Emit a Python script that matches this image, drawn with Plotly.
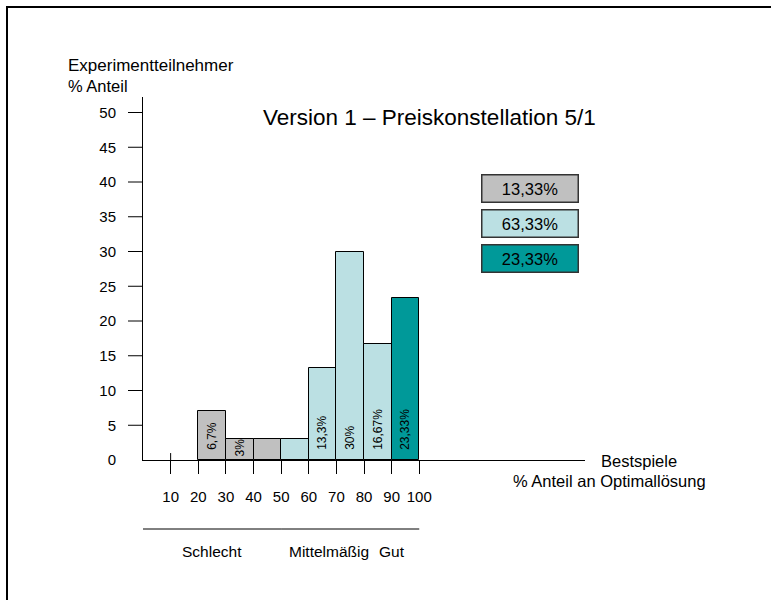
import plotly.graph_objects as go

# ---- data ----
bin_starts = [20, 30, 40, 50, 60, 70, 80, 90]
bin_width = 10
shares = [7, 3, 3, 3, 13.3, 30, 16.67, 23.33]
bar_labels = ["6,7%", "3%", "", "", "13,3%", "30%", "16,67%", "23,33%"]
groups = ["Schlecht", "Schlecht", "Schlecht", "Mittel", "Mittel", "Mittel", "Mittel", "Gut"]
group_colors = {"Schlecht": "#C0C0C0", "Mittel": "#BBE0E3", "Gut": "#009999"}
summary_values = ["13,33%", "63,33%", "23,33%"]
summary_groups = ["Schlecht", "Mittel", "Gut"]
x_ticks = [10, 20, 30, 40, 50, 60, 70, 80, 90, 100]
y_ticks = [0, 5, 10, 15, 20, 25, 30, 35, 40, 45, 50]
quality_labels = ["Schlecht", "Mittelmäßig", "Gut"]
quality_pos = [25, 67.5, 90]
quality_segments = [(0, 50), (50, 100)]

FONT = "Liberation Sans, Arial, sans-serif"

# plot area geometry (pixels)
L, R, T, B = 143, 585, 97, 460
W, H = 771, 600
PW, PH = R - L, B - T

def px_x(px):
    return (px - L) / PW

def px_y(py):
    return (B - py) / PH

# labels in taller bars sit a little above the base
shown_labels = [("\u00a0\u00a0" + t if (t and v > 5) else t) for t, v in zip(bar_labels, shares)]

fig = go.Figure()
fig.add_trace(go.Bar(
    x=[s + bin_width / 2 for s in bin_starts],
    y=shares,
    width=bin_width,
    marker=dict(color=[group_colors[g] for g in groups], line=dict(color="black", width=1)),
    text=shown_labels,
    textposition="inside",
    insidetextanchor="start",
    textangle=-90,
    textfont=dict(family=FONT, size=12, color="black"),
    constraintext="none",
    hoverinfo="skip",
))

shapes = []
# y ticks (left of axis)
for v in y_ticks[1:]:
    shapes.append(dict(type="line", xref="paper", yref="y", x0=-15 / PW, x1=0, y0=v, y1=v,
                       line=dict(color="black", width=1)))
# small upward tick at first x tick
shapes.append(dict(type="line", xref="x", yref="y", x0=x_ticks[0], x1=x_ticks[0], y0=0, y1=1,
                   line=dict(color="black", width=1)))
# quality group lines
for a, b in quality_segments:
    shapes.append(dict(type="line", xref="x", yref="paper", x0=a, x1=b, y0=px_y(529), y1=px_y(529),
                       line=dict(color="black", width=1)))
# frame
shapes.append(dict(type="rect", xref="paper", yref="paper",
                   x0=px_x(7), x1=px_x(820), y0=px_y(640), y1=px_y(7),
                   line=dict(color="black", width=2), fillcolor="rgba(0,0,0,0)"))

annotations = []
annotations.append(dict(text="Version 1 – Preiskonstellation 5/1", xref="paper", yref="paper",
                        x=px_x(429.5), y=px_y(117), xanchor="center", yanchor="middle", showarrow=False,
                        font=dict(family=FONT, size=22.5, color="black")))
annotations.append(dict(text="Experimentteilnehmer", xref="paper", yref="paper",
                        x=px_x(66), y=px_y(66), xanchor="left", yanchor="middle", showarrow=False,
                        font=dict(family=FONT, size=17, color="black")))
annotations.append(dict(text="% Anteil", xref="paper", yref="paper",
                        x=px_x(66), y=px_y(86), xanchor="left", yanchor="middle", showarrow=False,
                        font=dict(family=FONT, size=16.5, color="black")))
annotations.append(dict(text="Bestspiele", xref="paper", yref="paper",
                        x=px_x(599), y=px_y(461), xanchor="left", yanchor="middle", showarrow=False,
                        font=dict(family=FONT, size=16.5, color="black")))
annotations.append(dict(text="% Anteil an Optimallösung", xref="paper", yref="paper",
                        x=px_x(708), y=px_y(481), xanchor="right", yanchor="middle", showarrow=False,
                        font=dict(family=FONT, size=16.5, color="black")))
for lab, pos in zip(quality_labels, quality_pos):
    annotations.append(dict(text=lab, xref="x", yref="paper", x=pos, y=px_y(551),
                            xanchor="center", yanchor="middle", showarrow=False,
                            font=dict(family=FONT, size=15.5, color="black")))
box_centers = [188, 223, 258]
for val, g, cy in zip(summary_values, summary_groups, box_centers):
    annotations.append(dict(text=val, xref="paper", yref="paper", x=px_x(529.5), y=px_y(cy),
                            xanchor="center", yanchor="middle", showarrow=False,
                            width=95, height=26, borderpad=0, borderwidth=1.5,
                            bordercolor="#333333", bgcolor=group_colors[g],
                            font=dict(family=FONT, size=16.5, color="black")))

fig.update_layout(
    width=W, height=H,
    margin=dict(l=L, r=W - R, t=T, b=H - B, pad=0),
    paper_bgcolor="white", plot_bgcolor="white",
    showlegend=False,
    bargap=0,
    shapes=shapes,
    annotations=annotations,
    font=dict(family=FONT, size=15, color="black"),
    xaxis=dict(range=[0, 160], tickvals=x_ticks, ticks="outside", ticklen=13, tickcolor="black",
               tickwidth=1, showline=True, linecolor="black", linewidth=1, showgrid=False,
               zeroline=False, ticklabelstandoff=10, tickfont=dict(family=FONT, size=15)),
    yaxis=dict(range=[0, PH / 6.95], tickvals=y_ticks, ticks="", showline=True, linecolor="black",
               linewidth=1, showgrid=False, zeroline=False, ticklabelstandoff=23,
               tickfont=dict(family=FONT, size=15)),
)

fig.write_html("out.html")
